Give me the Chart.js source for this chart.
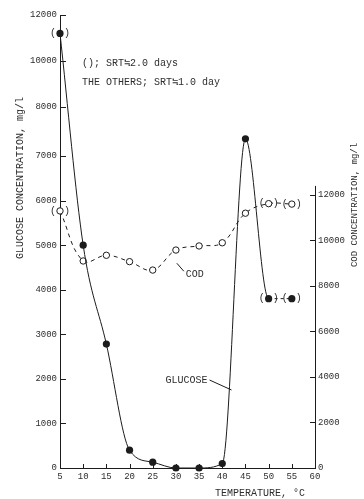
<!DOCTYPE html>
<html>
<head>
<meta charset="utf-8">
<style>
  html, body { margin: 0; padding: 0; background: #fff; }
  #c { display: block; }
</style>
<script src="https://cdn.jsdelivr.net/npm/chart.js@4/dist/chart.umd.min.js"></script>
</head>
<body>
<canvas id="c" width="364" height="499"></canvas>
<script>
// Reactor temperature runs, °C
const temperatures = [5, 10, 15, 20, 25, 30, 35, 40, 45, 50, 55];
// Effluent glucose, mg/l
const glucose = [11200, 5000, 2780, 400, 130, 0, 0, 100, 7350, 3800, 3800];
// Effluent COD, mg/l
const cod = [11300, 9100, 9350, 9070, 8700, 9580, 9760, 9900, 11200, 11620, 11600];
// Runs made at SRT≈2.0 days (shown in parentheses); all others at SRT≈1.0 day
const srt2Temps = [5, 50, 55];

const tempTicks = [5, 10, 15, 20, 25, 30, 35, 40, 45, 50, 55, 60];
const glucoseTicks = [0, 1000, 2000, 3000, 4000, 5000, 6000, 7000, 8000, 10000, 12000];
const codTicks = [0, 2000, 4000, 6000, 8000, 10000, 12000];

const ink = '#1c1c1c';
const textInk = '#2e2e2e';
const mono = "'Liberation Mono', 'DejaVu Sans Mono', monospace";

// The glucose axis is compressed above 7000 mg/l (steps of 2000 take the room of ~1000).
const GLU_KNOTS = [0, 7000, 8000, 12000];
const GLU_FRAC = [0, 0.6887, 0.7969, 1];

class BrokenLinearScale extends Chart.LinearScale {
  static id = 'brokenLinear';
  static defaults = Chart.LinearScale.defaults;
  _frac(v) {
    const k = GLU_KNOTS, f = GLU_FRAC;
    if (v <= k[0]) return f[0] + (v - k[0]) / (k[1] - k[0]) * (f[1] - f[0]);
    for (let i = 1; i < k.length; i++) {
      if (v <= k[i] || i === k.length - 1) {
        return f[i - 1] + (v - k[i - 1]) / (k[i] - k[i - 1]) * (f[i] - f[i - 1]);
      }
    }
  }
  getPixelForValue(value) {
    return this.getPixelForDecimal(this._frac(value));
  }
  getValueForPixel(pixel) {
    const d = this.getDecimalForPixel(pixel);
    const k = GLU_KNOTS, f = GLU_FRAC;
    for (let i = 1; i < f.length; i++) {
      if (d <= f[i] || i === f.length - 1) {
        return k[i - 1] + (d - f[i - 1]) / (f[i] - f[i - 1]) * (k[i] - k[i - 1]);
      }
    }
  }
}
Chart.register(BrokenLinearScale);

Chart.defaults.font.family = mono;
Chart.defaults.font.size = 9;
Chart.defaults.color = textInk;

const isSrt2 = i => srt2Temps.includes(temperatures[i]);

const decor = {
  id: 'decor',
  afterDraw(chart) {
    const { ctx, chartArea: a, scales: { x, y, y2 } } = chart;
    ctx.save();
    ctx.strokeStyle = ink;
    ctx.lineWidth = 1;
    ctx.setLineDash([]);

    // tick marks pointing into the plot
    ctx.beginPath();
    tempTicks.slice(1, -1).forEach(t => {
      const px = Math.round(x.getPixelForValue(t)) + 0.5;
      ctx.moveTo(px, a.bottom);
      ctx.lineTo(px, a.bottom - 4);
    });
    glucoseTicks.slice(1).forEach(v => {
      const py = Math.round(y.getPixelForValue(v)) + 0.5;
      ctx.moveTo(a.left, py);
      ctx.lineTo(a.left + 6, py);
    });
    codTicks.slice(1).forEach(v => {
      const py = Math.round(y2.getPixelForValue(v)) + 0.5;
      ctx.moveTo(a.right, py);
      ctx.lineTo(a.right - 5, py);
    });
    // COD axis line, only as tall as its scale
    const rx = Math.round(a.right) + 0.5;
    ctx.moveTo(rx, y2.getPixelForValue(0));
    ctx.lineTo(rx, y2.getPixelForValue(12400));
    ctx.stroke();

    // parentheses around SRT≈2.0 day runs
    ctx.fillStyle = textInk;
    ctx.font = '10px ' + mono;
    ctx.textAlign = 'center';
    ctx.textBaseline = 'middle';
    [0, 1].forEach(ds => {
      const meta = chart.getDatasetMeta(ds);
      temperatures.forEach((t, i) => {
        if (!isSrt2(i)) return;
        const el = meta.data[i];
        ctx.fillText('(', el.x - 7, el.y);
        ctx.fillText(')', el.x + 7, el.y);
      });
    });

    // legend note
    ctx.textAlign = 'left';
    ctx.fillText('(); SRT\u22522.0 days', a.left + 22, a.top + 48);
    ctx.fillText('THE OTHERS; SRT\u22521.0 day', a.left + 22, a.top + 67);

    // curve labels with leader lines
    ctx.beginPath();
    const gx = x.getPixelForValue(42), gy = y.getPixelForValue(1750);
    ctx.moveTo(gx, gy);
    ctx.lineTo(gx - 22, gy - 10);
    const cx = x.getPixelForValue(30.2), cy = y2.getPixelForValue(9000);
    ctx.moveTo(cx, cy);
    ctx.lineTo(cx + 7, cy + 8);
    ctx.stroke();
    ctx.textAlign = 'right';
    ctx.fillText('GLUCOSE', gx - 24, gy - 10);
    ctx.textAlign = 'left';
    ctx.fillText('COD', cx + 9, cy + 11);

    // axis titles
    ctx.textAlign = 'right';
    ctx.fillText('TEMPERATURE, \u00B0C', a.right - 10, a.bottom + 25);

    ctx.save();
    ctx.translate(20, a.top + 163);
    ctx.rotate(-Math.PI / 2);
    ctx.textAlign = 'center';
    ctx.fillText('GLUCOSE CONCENTRATION, mg/l', 0, 0);
    ctx.restore();

    ctx.save();
    ctx.translate(355, a.top + 190);
    ctx.rotate(-Math.PI / 2);
    ctx.textAlign = 'center';
    ctx.font = '9px ' + mono;
    ctx.fillText('COD CONCENTRATION, mg/l', 0, 0);
    ctx.restore();

    ctx.restore();
  }
};

new Chart(document.getElementById('c'), {
  type: 'line',
  data: {
    datasets: [
      {
        label: 'GLUCOSE',
        data: temperatures.map((t, i) => ({ x: t, y: glucose[i] })),
        yAxisID: 'y',
        borderColor: ink,
        borderWidth: 1,
        cubicInterpolationMode: 'monotone',
        pointRadius: 3.6,
        pointBackgroundColor: ink,
        pointBorderColor: ink,
        pointBorderWidth: 0,
        clip: false,
        segment: {
          borderDash: c => (isSrt2(c.p0DataIndex) && isSrt2(c.p1DataIndex)) ? [3, 3] : undefined
        }
      },
      {
        label: 'COD',
        data: temperatures.map((t, i) => ({ x: t, y: cod[i] })),
        yAxisID: 'y2',
        borderColor: ink,
        borderWidth: 1,
        borderDash: [4, 4],
        tension: 0.4,
        pointRadius: 3.2,
        pointBackgroundColor: '#fff',
        pointBorderColor: ink,
        pointBorderWidth: 1,
        clip: false
      }
    ]
  },
  options: {
    responsive: false,
    animation: false,
    events: [],
    layout: { padding: { top: 15, left: 0, right: 0, bottom: 0 } },
    plugins: { legend: { display: false }, tooltip: { enabled: false } },
    scales: {
      x: {
        type: 'linear',
        min: 5,
        max: 60,
        afterBuildTicks: s => { s.ticks = tempTicks.map(v => ({ value: v })); },
        ticks: { padding: 3, maxRotation: 0, callback: v => String(v), font: { size: 9 } },
        grid: { display: false, drawTicks: false },
        border: { display: true, color: ink, width: 1 },
        afterFit: s => { s.height = 31; }
      },
      y: {
        type: 'brokenLinear',
        position: 'left',
        min: 0,
        max: 12000,
        afterBuildTicks: s => { s.ticks = glucoseTicks.map(v => ({ value: v })); },
        ticks: { padding: 3, callback: v => String(v), font: { size: 9 } },
        grid: { display: false, drawTicks: false },
        border: { display: true, color: ink, width: 1 },
        afterFit: s => { s.width = 60; }
      },
      y2: {
        type: 'linear',
        position: 'right',
        min: 0,
        max: 19912,
        afterBuildTicks: s => { s.ticks = codTicks.map(v => ({ value: v })); },
        ticks: { padding: 3, callback: v => String(v), font: { size: 9 } },
        grid: { display: false, drawTicks: false },
        border: { display: false },
        afterFit: s => { s.width = 49; }
      }
    }
  },
  plugins: [decor]
});
</script>
</body>
</html>
